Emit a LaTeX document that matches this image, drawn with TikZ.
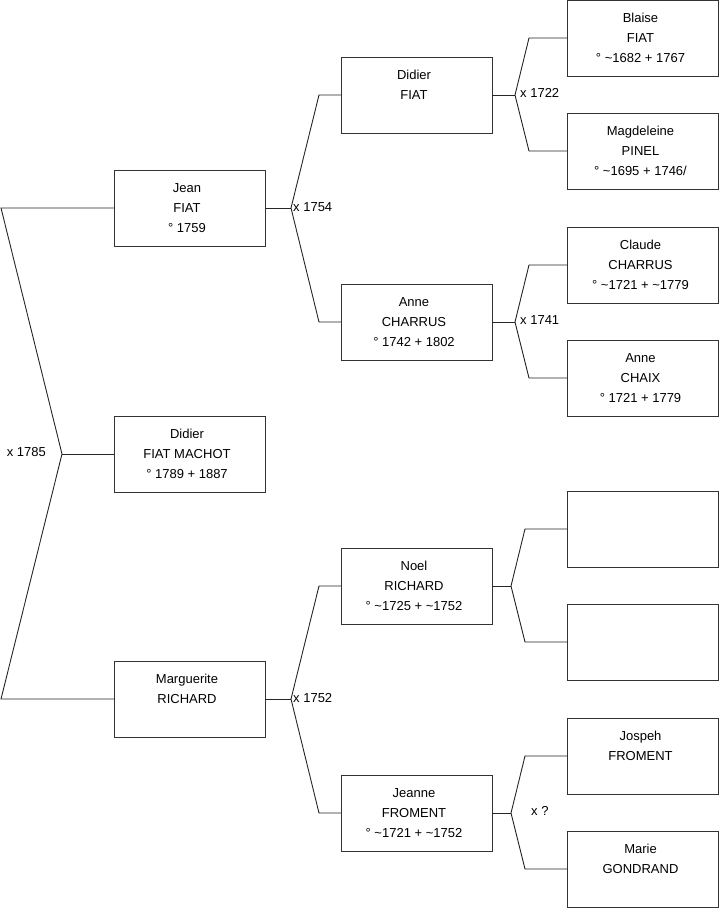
\documentclass[tikz,border=0pt]{standalone}
\usepackage{fontspec}
\setmainfont{Liberation Sans}
\newcommand\pers[3]{%
  \node[pbox] (#1) at (#2) {};
  \node[ptext] (#1-t) at ([xshift=-2.5pt,yshift=-13pt]#1.north) {#3};}
\begin{document}
\begin{tikzpicture}[x=1pt,y=-1pt,
  pbox/.style={draw=black!80,line width=1pt,minimum width=151pt,minimum height=76pt,inner sep=0pt,outer sep=0pt},
  ptext/.style={anchor=north,align=center,inner sep=0pt,font=\fontsize{13}{20}\selectfont},
  lnk/.style={draw=black!85,line width=0.9pt},
  mlabel/.style={font=\fontsize{13}{15}\selectfont,inner sep=0pt}]
\useasboundingbox (0,0) rectangle (719,908);
% column 1
\pers{jean}{189.5,208}{Jean\\FIAT\\° 1759}
\pers{didier}{189.5,454}{Didier\\FIAT MACHOT\\° 1789 + 1887}
\pers{marg}{189.5,699}{Marguerite\\RICHARD}
% column 2
\pers{didf}{416.5,95}{Didier\\FIAT}
\pers{annec}{416.5,322}{Anne\\CHARRUS\\° 1742 + 1802}
\pers{noel}{416.5,586}{Noel\\RICHARD\\° \textasciitilde1725 + \textasciitilde1752}
\pers{jeanne}{416.5,813}{Jeanne\\FROMENT\\° \textasciitilde1721 + \textasciitilde1752}
% column 3
\pers{blaise}{643,38}{Blaise\\FIAT\\° \textasciitilde1682 + 1767}
\pers{magd}{643,151}{Magdeleine\\PINEL\\° \textasciitilde1695 + 1746/}
\pers{claude}{643,265}{Claude\\CHARRUS\\° \textasciitilde1721 + \textasciitilde1779}
\pers{annex}{643,378}{Anne\\CHAIX\\° 1721 + 1779}
\pers{emptya}{643,529}{}
\pers{emptyb}{643,642}{}
\pers{jospeh}{643,756}{Jospeh\\FROMENT}
\pers{marie}{643,869}{Marie\\GONDRAND}
% bracket 1
\coordinate (v1) at (62,454);
\coordinate (v1a) at (1,208);
\coordinate (v1b) at (1,699);
\draw[lnk] (didier.west) -- (v1);
\draw[lnk] (jean.west) -- (v1a) -- (v1) -- (v1b) -- (marg.west);
\node[mlabel,anchor=east] (l1) at (46,452) {x 1785};
% bracket 2
\coordinate (v2) at (291,208);
\coordinate (v2a) at (319,95);
\coordinate (v2b) at (319,322);
\draw[lnk] (jean.east) -- (v2);
\draw[lnk] (didf.west) -- (v2a) -- (v2) -- (v2b) -- (annec.west);
\node[mlabel,anchor=west] (l2) at (293,207) {x 1754};
% bracket 3
\coordinate (v3) at (291,699);
\coordinate (v3a) at (319,586);
\coordinate (v3b) at (319,813);
\draw[lnk] (marg.east) -- (v3);
\draw[lnk] (noel.west) -- (v3a) -- (v3) -- (v3b) -- (jeanne.west);
\node[mlabel,anchor=west] (l3) at (293,698) {x 1752};
% bracket 4
\coordinate (v4) at (515,95);
\coordinate (v4a) at (529,38);
\coordinate (v4b) at (529,151);
\draw[lnk] (didf.east) -- (v4);
\draw[lnk] (blaise.west) -- (v4a) -- (v4) -- (v4b) -- (magd.west);
\node[mlabel,anchor=west] (l4) at (520,93) {x 1722};
% bracket 5
\coordinate (v5) at (515,322);
\coordinate (v5a) at (529,265);
\coordinate (v5b) at (529,378);
\draw[lnk] (annec.east) -- (v5);
\draw[lnk] (claude.west) -- (v5a) -- (v5) -- (v5b) -- (annex.west);
\node[mlabel,anchor=west] (l5) at (520,320) {x 1741};
% bracket 6
\coordinate (v6) at (511,586);
\coordinate (v6a) at (525,529);
\coordinate (v6b) at (525,642);
\draw[lnk] (noel.east) -- (v6);
\draw[lnk] (emptya.west) -- (v6a) -- (v6) -- (v6b) -- (emptyb.west);
% bracket 7
\coordinate (v7) at (511,813);
\coordinate (v7a) at (525,756);
\coordinate (v7b) at (525,869);
\draw[lnk] (jeanne.east) -- (v7);
\draw[lnk] (jospeh.west) -- (v7a) -- (v7) -- (v7b) -- (marie.west);
\node[mlabel,anchor=west] (l7) at (531,811) {x ?};
\end{tikzpicture}
\end{document}
